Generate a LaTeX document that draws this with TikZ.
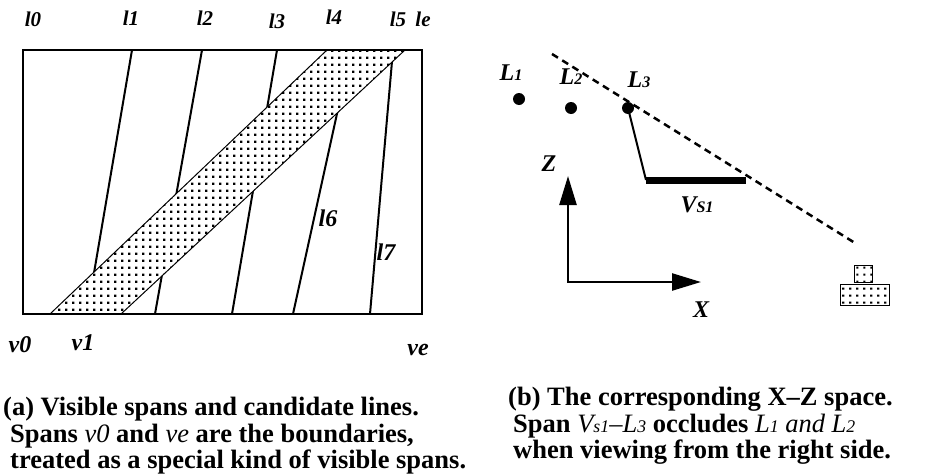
\documentclass[tikz,border=0pt]{standalone}
\usepackage{fontspec}
\setmainfont{Liberation Serif}[ItalicFont={Liberation Serif Italic}, BoldFont={Liberation Serif Bold}, BoldItalicFont={Liberation Serif Bold Italic}]
\usepackage{graphicx}
\usetikzlibrary{patterns,arrows.meta}

% dotted fill of the visible spans
\pgfdeclarepatternformonly{spandots}{\pgfpointorigin}{\pgfpoint{7pt}{7pt}}{\pgfpoint{7pt}{7pt}}{%
  \pgfpathrectangle{\pgfpoint{2.5pt}{2.5pt}}{\pgfpoint{2.4pt}{2.4pt}}\pgfusepath{fill}}

\newcommand{\sml}[1]{\scalebox{0.67}{#1}}

\tikzset{
  toplbl/.style={font=\fontsize{21}{21}\selectfont\bfseries\itshape, inner sep=0pt},
  sidelbl/.style={font=\fontsize{24}{24}\selectfont\bfseries\itshape, inner sep=0pt},
  biglbl/.style={font=\fontsize{24}{24}\selectfont\bfseries\itshape, inner sep=0pt},
  capt/.style={font=\fontsize{26.5}{26.5}\selectfont\bfseries, align=left, inner sep=0pt, anchor=north west},
  candline/.style={line width=2pt},
  spanfill/.style={preaction={fill=white}, pattern=spandots, draw, line width=1pt},
  spot/.style={circle, fill, inner sep=0pt, minimum size=12pt},
  axisarrow/.style={line width=2.5pt, line join=miter,
    {Triangle[length=29pt,width=17pt]}-{Triangle[length=29pt,width=17pt]}}
}

\begin{document}
\begin{tikzpicture}[x=1pt,y=-1pt]
\useasboundingbox (0,0) rectangle (930,474);

% (a) candidate lines and visible spans
\draw[candline] (132,50) -- (87,314);
\draw[candline] (202,50) -- (155,314);
\draw[candline] (277,50) -- (232,314);
\draw[candline] (351,50) -- (293,314);
\draw[candline] (393,50) -- (370,314);
\draw[spanfill] (50,314) -- (121,314) -- (405,50) -- (327,50) -- cycle;
\draw[line width=2.5pt] (23,50) rectangle (422,314);

\node[toplbl] (l0) at (33,19) {l0};
\node[toplbl] (l1) at (131,18) {l1};
\node[toplbl] (l2) at (205,18) {l2};
\node[toplbl] (l3) at (277,21) {l3};
\node[toplbl] (l4) at (334,17) {l4};
\node[toplbl] (l5) at (398,19) {l5};
\node[toplbl] (le) at (423,19) {le};
\node[biglbl] (l6) at (328,218) {l6};
\node[biglbl] (l7) at (386,252) {l7};
\node[sidelbl] (v0) at (20,345) {v0};
\node[sidelbl] (v1) at (83,343) {v1};
\node[sidelbl] (ve) at (418,350) {ve};

% (b) the X-Z space
\coordinate (sightA) at (552,54);
\coordinate (sightB) at (855,243);
\draw[line width=2.5pt, dash pattern=on 7pt off 5pt] (sightA) -- (sightB);
\node[spot] (L1) at (519,99) {};
\node[spot] (L2) at (571,108) {};
\node[spot] (L3) at (628,108) {};
\node[biglbl] (L1lbl) at (511,73) {L\sml{1}};
\node[biglbl] (L2lbl) at (571,77) {L\sml{2}};
\node[biglbl] (L3lbl) at (639,80) {L\sml{3}};

\coordinate (vsA) at (646,180);
\coordinate (vsB) at (746,180);
\draw[line width=2pt] (L3.center) -- (vsA);
\draw[line width=7pt] (vsA) -- (vsB);
\node[biglbl] (vslbl) at (697,205) {V\sml{S1}};

\coordinate (org) at (568,282);
\coordinate (ztip) at (568,176);
\coordinate (xtip) at (701,282);
\draw[axisarrow] (ztip) -- (org) -- (xtip);
\node[biglbl] (zlbl) at (549,164) {Z};
\node[biglbl] (xlbl) at (701,310) {X};

% viewer on the right side
\draw[spanfill] (854,265) rectangle (872,282);
\draw[spanfill] (840,284) rectangle (889,305);

% captions
\node[capt] (capa) at (3,397) {(a) Visible spans and candidate lines.\\
  \hspace*{7pt}Spans {\mdseries\itshape v0} and {\mdseries\itshape ve} are the boundaries,\\
  \hspace*{7pt}treated as a special kind of visible spans.};
\node[capt] (capb) at (508,387) {(b) The corresponding X--Z space.\\
  \hspace*{5pt}Span {\mdseries\itshape V\sml{s1}--L\sml{3}} occludes {\mdseries\itshape L\sml{1} and L\sml{2}}\\
  \hspace*{5pt}when viewing from the right side.};
\end{tikzpicture}
\end{document}
